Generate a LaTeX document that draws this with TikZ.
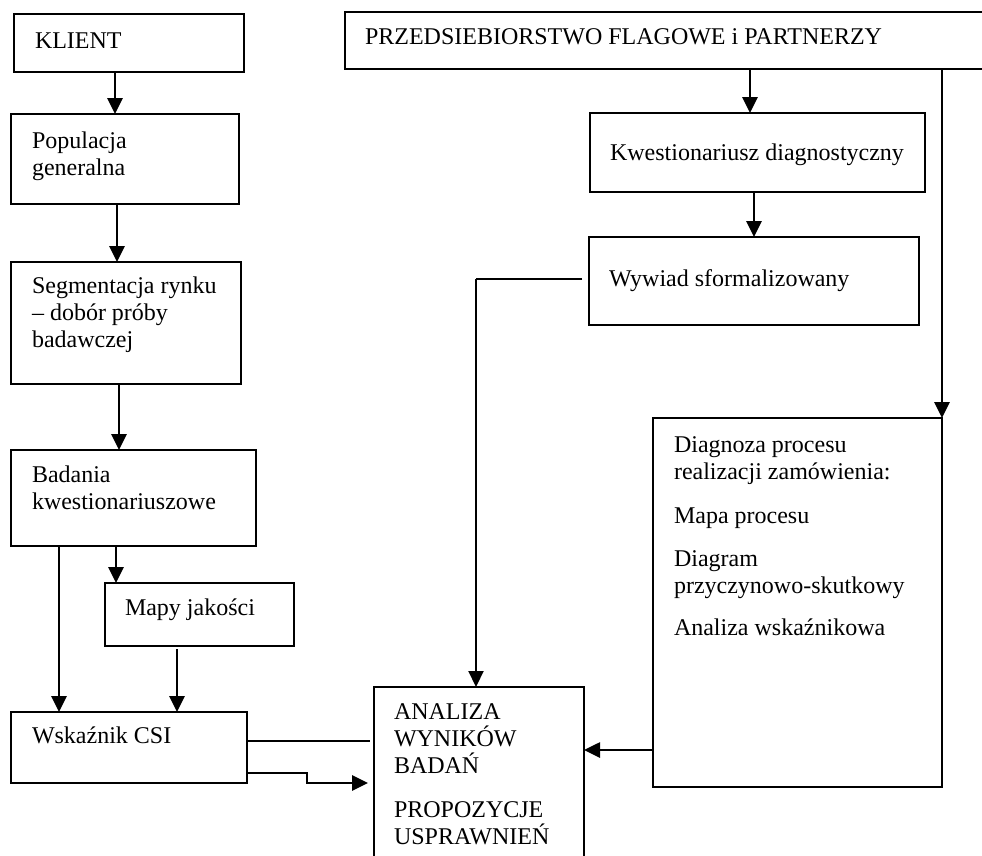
\documentclass[tikz,border=0pt]{standalone}
\usepackage{fontspec}
\setmainfont{Liberation Serif}
\usetikzlibrary{arrows.meta}
\tikzset{
  box/.style={draw, line width=1.3pt, inner sep=0pt, outer sep=0pt, anchor=north west},
  txt/.style={font=\fontsize{24}{27}\selectfont, inner sep=0pt, outer sep=0pt, anchor=base west, align=left},
  arr/.style={line width=2.7pt, -{Triangle[length=16pt,width=15pt]}},
  thinline/.style={line width=1.3pt}
}
\begin{document}
\begin{tikzpicture}[x=1pt,y=-1pt]
\useasboundingbox (0,0) rectangle (982,855);
\clip (0,0) rectangle (982,855);
% boxes
\node[box, minimum width=230pt, minimum height=58pt] (klient) at (14,14) {};
\node[box, minimum width=228pt, minimum height=90pt] (pop) at (11,114) {};
\node[box, minimum width=230pt, minimum height=122pt] (seg) at (11,262) {};
\node[box, minimum width=245pt, minimum height=96pt] (bad) at (11,450) {};
\node[box, minimum width=189pt, minimum height=63pt] (mapy) at (105,583) {};
\node[box, minimum width=236pt, minimum height=71pt] (csi) at (11,712) {};
\node[box, minimum width=210pt, minimum height=200pt] (anal) at (374,687) {};
\node[box, minimum width=660pt, minimum height=57pt] (przed) at (345,12) {};
\node[box, minimum width=335pt, minimum height=79pt] (kwest) at (590,113) {};
\node[box, minimum width=330pt, minimum height=88pt] (wyw) at (589,237) {};
\node[box, minimum width=289pt, minimum height=369pt] (diag) at (653,418) {};
% texts (multi-line nodes: base = baseline of the last line)
\node[txt] (klient-t) at (35,48) {KLIENT};
\node[txt] (pop-t) at (32,175) {Populacja\\generalna};
\node[txt] (seg-t) at (32,347) {Segmentacja rynku\\– dobór próby\\badawczej};
\node[txt] (bad-t) at (32,509) {Badania\\kwestionariuszowe};
\node[txt] (mapy-t) at (125,615) {Mapy jakości};
\node[txt] (csi-t) at (32,743) {Wskaźnik CSI};
\node[txt] (anal-t) at (394,844) {ANALIZA\\WYNIKÓW\\BADAŃ\\[17pt]PROPOZYCJE\\USPRAWNIEŃ};
\node[txt] (przed-t) at (365,44) {PRZEDSIEBIORSTWO FLAGOWE i PARTNERZY};
\node[txt, anchor=base] (kwest-t) at (757,160) {Kwestionariusz diagnostyczny};
\node[txt] (wyw-t) at (609,286) {Wywiad sformalizowany};
\node[txt] (diag-t) at (674,635) {Diagnoza procesu\\realizacji zamówienia:\\[17pt]Mapa procesu\\[16pt]Diagram\\przyczynowo-skutkowy\\[15pt]Analiza wskaźnikowa};
% connectors left column
\draw[arr] (klient.south -| 115,0) -- (pop.north -| 115,0);
\draw[arr] (pop.south -| 117,0) -- (seg.north -| 117,0);
\draw[arr] (seg.south -| 119,0) -- (bad.north -| 119,0);
\draw[arr] (bad.south -| 59,0) -- (csi.north -| 59,0);
\draw[arr] (bad.south -| 116,0) -- (mapy.north -| 116,0);
\draw[arr, shorten <=3pt] (mapy.south -| 177,0) -- (csi.north -| 177,0);
\draw[thinline, shorten >=4pt] (csi.east |- 0,741) -- (anal.west |- 0,741);
\coordinate (stepA) at (307,773);
\coordinate (stepB) at (307,783);
\draw[arr, shorten >=6pt] (csi.east |- stepA) -- (stepA) -- (stepB) -- (anal.west |- stepB);
% connectors right side
\draw[arr] (przed.south -| 750,0) -- (kwest.north -| 750,0);
\draw[arr] (kwest.south -| 754,0) -- (wyw.north -| 754,0);
\coordinate (wbend) at (476,279);
\draw[thinline, shorten <=7pt] (wyw.west |- wbend) -- (wbend);
\draw[arr, line width=2.1pt] (wbend) -- (anal.north -| wbend);
\draw[arr] (przed.south -| 942,0) -- (diag.north east);
\draw[arr] (diag.west |- 0,750) -- (anal.east |- 0,750);
\end{tikzpicture}
\end{document}
